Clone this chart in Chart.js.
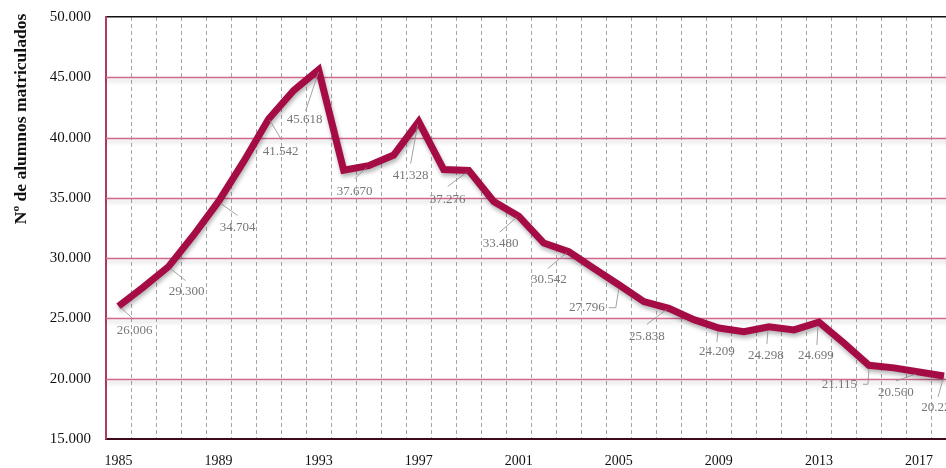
<!DOCTYPE html>
<html lang="es">
<head>
  <meta charset="UTF-8" />
  <title>Nº de alumnos matriculados</title>
  <script src="https://cdn.jsdelivr.net/npm/chart.js"></script>
  <style>
    html, body {
      margin: 0;
      padding: 0;
      background: #fff;
      overflow: hidden;
    }
    .wrap {
      width: 958px;
      height: 475px;
      margin-top: -7px;
      position: relative;
    }
  </style>
</head>
<body>
  <div class="wrap">
    <canvas id="chart"></canvas>
  </div>

  <script>
    // Cursos (años)
    const years = ['1985', '1986', '1987', '1988', '1989', '1990', '1991', '1992', '1993', '1994',
                   '1995', '1996', '1997', '1998', '1999', '2000', '2001', '2002', '2003', '2004',
                   '2005', '2006', '2007', '2008', '2009', '2010', '2011', '2012', '2013', '2014',
                   '2015', '2016', '2017', '2018'];

    // Alumnos matriculados
    const matriculados = [26006, 27600, 29300, 31900, 34704, 38000, 41542, 43900, 45618, 37300,
                          37670, 38550, 41328, 37350, 37276, 34700, 33480, 31250, 30542, 29150,
                          27796, 26400, 25838, 24900, 24209, 23900, 24298, 24050, 24699, 22950,
                          21115, 20900, 20560, 20220];

    // años con etiqueta de valor
    const labeledYears = ['1985', '1987', '1989', '1991', '1993', '1995', '1997', '1999', '2001',
                          '2003', '2005', '2007', '2009', '2011', '2013', '2015', '2017', '2018'];

    const yTicks = [15000, 20000, 25000, 30000, 35000, 40000, 45000, 50000];
    const xTickYears = ['1985', '1989', '1993', '1997', '2001', '2005', '2009', '2013', '2017'];

    // colocación de las etiquetas: texto (dx, dy) y línea guía, relativo al punto
    const labelPlacement = {
      '1985': { t: [16, 24], l: [[2, 1], [15, 13]] },
      '1987': { t: [18, 25], l: [[2, 2], [17, 14]] },
      '1989': { t: [19, 26], l: [[2, 2], [19, 14]] },
      '1991': { t: [12, 33], l: [[1, 1], [13, 21]] },
      '1993': { t: [-14, 50], l: [[0, 2], [-13, 41]] },
      '1995': { t: [-14, 26], l: [[-2, 2], [-14, 13]] },
      '1997': { t: [-8, 54], l: [[-1, 3], [-8, 42]] },
      '1999': { t: [-21, 29], l: [[-2, 2], [-21, 16]] },
      '2001': { t: [-18, 27], l: [[-2, 1], [-19, 16]] },
      '2003': { t: [-20, 28], l: [[-2, 1], [-21, 17]] },
      '2005': { t: [-14, 23], align: 'right', l: [[0, 4], [-3, 23], [-10, 23]] },
      '2007': { t: [-22, 28], l: [[-2, 1], [-22, 16]] },
      '2009': { t: [-2, 24], l: [[-1, 4], [-2, 14]] },
      '2011': { t: [-3, 29], l: [[-1, 4], [-2, 17]] },
      '2013': { t: [-3, 34], l: [[-1, 4], [-2, 23]] },
      '2015': { t: [-12, 19], align: 'right', l: [[0, 4], [-1, 19], [-6, 19]] },
      '2017': { t: [-23, 21], l: [[-3, 2], [-23, 9]] },
      '2018': { t: [-5, 32], l: [[-1, 3], [-6, 21]] }
    };

    const fmt = v => String(v).replace(/\B(?=(\d{3})+(?!\d))/g, '.');

    const serif = '"Liberation Serif", "DejaVu Serif", serif';
    const lineColor = '#a50b44';

    // líneas horizontales rosas con sombra suave
    const hGrid = {
      id: 'hGrid',
      beforeDatasetsDraw(chart) {
        const { ctx, chartArea, scales: { y } } = chart;
        ctx.save();
        yTicks.forEach(v => {
          if (v === 15000 || v === 50000) return;
          const py = Math.round(y.getPixelForValue(v)) + 0.5;
          ctx.shadowColor = 'rgba(0,0,0,0.22)';
          ctx.shadowBlur = 4;
          ctx.shadowOffsetY = 3;
          ctx.strokeStyle = '#d2678f';
          ctx.lineWidth = 1.5;
          ctx.beginPath();
          ctx.moveTo(chartArea.left, py);
          ctx.lineTo(chartArea.right, py);
          ctx.stroke();
        });
        ctx.restore();
      }
    };

    // sombra de la línea
    const lineShadow = {
      id: 'lineShadow',
      beforeDatasetDraw(chart) {
        const ctx = chart.ctx;
        ctx.save();
        ctx.shadowColor = 'rgba(0,0,0,0.3)';
        ctx.shadowBlur = 4;
        ctx.shadowOffsetX = 1;
        ctx.shadowOffsetY = 3;
      },
      afterDatasetDraw(chart) {
        chart.ctx.restore();
      }
    };

    // etiquetas de valor con línea guía + título del eje
    const valueLabels = {
      id: 'valueLabels',
      afterDatasetsDraw(chart) {
        const { ctx } = chart;
        const meta = chart.getDatasetMeta(0);
        ctx.save();
        labeledYears.forEach(yr => {
          const i = years.indexOf(yr);
          const p = meta.data[i];
          const pl = labelPlacement[yr];
          ctx.strokeStyle = '#8c8c8c';
          ctx.lineWidth = 0.8;
          ctx.beginPath();
          pl.l.forEach((o, k) => {
            const fn = k === 0 ? 'moveTo' : 'lineTo';
            ctx[fn](p.x + o[0], p.y + o[1]);
          });
          ctx.stroke();
          ctx.fillStyle = '#777';
          ctx.font = '13px ' + serif;
          ctx.textAlign = pl.align || 'center';
          ctx.textBaseline = 'middle';
          ctx.fillText(fmt(matriculados[i]), p.x + pl.t[0], p.y + pl.t[1]);
        });
        ctx.restore();

        // título del eje Y (compensa el desplazamiento del lienzo)
        ctx.save();
        ctx.translate(21, 126);
        ctx.rotate(-Math.PI / 2);
        ctx.fillStyle = '#111';
        ctx.font = 'bold 17.5px ' + serif;
        ctx.textAlign = 'center';
        ctx.textBaseline = 'middle';
        ctx.fillText('Nº de alumnos matriculados', 0, 0);
        ctx.restore();
      }
    };

    new Chart(document.getElementById('chart'), {
      type: 'line',
      data: {
        labels: years,
        datasets: [{
          label: 'Nº de alumnos matriculados',
          data: matriculados,
          borderColor: lineColor,
          borderWidth: 7,
          borderJoinStyle: 'miter',
          borderCapStyle: 'butt',
          pointRadius: 0,
          pointHoverRadius: 0,
          tension: 0,
          fill: false
        }]
      },
      options: {
        responsive: true,
        maintainAspectRatio: false,
        animation: false,
        layout: { autoPadding: false, padding: { top: 7, right: 0, bottom: 0, left: 0 } },
        plugins: {
          legend: { display: false },
          tooltip: { enabled: false }
        },
        scales: {
          x: {
            offset: true,
            afterFit: scale => { scale.height = 29; },
            grid: {
              offset: true,
              drawTicks: false,
              color: '#a6a6a6',
              lineWidth: 1
            },
            border: { display: true, color: '#3b0a1c', width: 2, dash: [4, 3] },
            ticks: {
              autoSkip: false,
              maxRotation: 0,
              padding: 14,
              color: '#111',
              font: { family: serif, size: 14 },
              callback: function (val) {
                const yr = this.getLabelForValue(val);
                return xTickYears.includes(yr) ? yr : '';
              }
            }
          },
          y: {
            min: 15000,
            max: 50000,
            afterBuildTicks: scale => {
              scale.ticks = yTicks.map(v => ({ value: v }));
            },
            afterFit: scale => { scale.width = 106; },
            grid: {
              drawTicks: false,
              color: ctx => ctx.tick && ctx.tick.value === 50000 ? '#111' : 'rgba(0,0,0,0)',
              lineWidth: 1.5
            },
            border: { display: true, color: '#b03a62', width: 2 },
            ticks: {
              padding: 15,
              color: '#111',
              font: { family: serif, size: 15 },
              callback: v => fmt(v)
            }
          }
        }
      },
      plugins: [hGrid, lineShadow, valueLabels]
    });
  </script>
</body>
</html>
